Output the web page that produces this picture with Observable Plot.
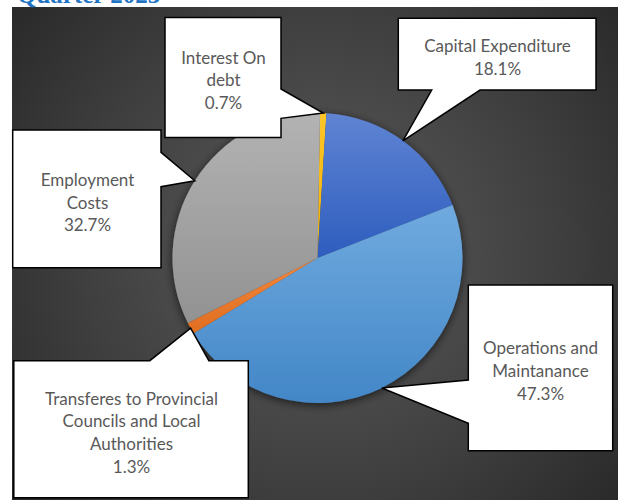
<!DOCTYPE html>
<html>
<head>
<meta charset="utf-8">
<script src="https://cdn.jsdelivr.net/npm/d3@7"></script>
<script src="https://cdn.jsdelivr.net/npm/@observablehq/plot@0.6"></script>
<style>
  html, body { margin: 0; padding: 0; background: #ffffff; }
  #chart svg { display: block; }
</style>
</head>
<body>
<div id="chart"></div>
<script>
// ---- data ----
const categories = [
  "Interest On debt",
  "Capital Expenditure",
  "Operations and Maintanance",
  "Transferes to Provincial Councils and Local Authorities",
  "Employment Costs"
];
const shares = [0.7, 18.1, 47.3, 1.3, 32.7];
const labelLines = [
  ["Interest On", "debt"],
  ["Capital Expenditure"],
  ["Operations and", "Maintanance"],
  ["Transferes to Provincial", "Councils and Local", "Authorities"],
  ["Employment", "Costs"]
];
const titleText = "Quarter 2023";

// ---- styles / layout ----
const sliceGradients = [
  ["#FFC62A", "#F2B000"],
  ["#5F84D3", "#2E5DBE"],
  ["#70AADF", "#4387C7"],
  ["#F2873A", "#E06E22"],
  ["#B3B3B3", "#929292"]
];
const W = 618, H = 500;
const pieCenter = [317.5, 258];
const pieRadius = 145;
const startDeg = 1;
const plotArea = [12, 7, 618, 500];
const callouts = [
  {box: [165, 17.5, 281, 137.5], edge: "right", base: [89, 118.3], text: [223, 78.5]},
  {box: [398.3, 18.3, 596, 90], edge: "bottom", base: [431.7, 480], text: [497, 55.5]},
  {box: [468.3, 285, 612.7, 450.7], edge: "left", base: [380, 423.3], text: [540, 369.3]},
  {box: [13.8, 360.7, 248.3, 497.7], edge: "top", base: [149.8, 208.9], text: [131, 431]},
  {box: [12.7, 130, 161, 267.7], edge: "right", base: [152.3, 186.7], text: [87, 201]}
];

const rows = categories.map((c, i) => ({
  category: c,
  value: shares[i],
  label: labelLines[i].concat([shares[i].toFixed(1) + "%"]).join("\n"),
  tx: callouts[i].text[0],
  ty: callouts[i].text[1]
}));

const rad = (d) => d * Math.PI / 180;
const pie = d3.pie().sort(null).value(d => d.value)
  .startAngle(rad(startDeg)).endAngle(rad(startDeg + 360));
const arcs = pie(rows);

const svgNS = "http://www.w3.org/2000/svg";
function el(name, attrs) {
  const e = document.createElementNS(svgNS, name);
  for (const k in attrs) e.setAttribute(k, attrs[k]);
  return e;
}

function calloutPoints(c, tip) {
  const [x0, y0, x1, y1] = c.box;
  const [a, b] = c.base;
  switch (c.edge) {
    case "right": return [[x0,y0],[x1,y0],[x1,a],tip,[x1,b],[x1,y1],[x0,y1]];
    case "left": return [[x0,y0],[x1,y0],[x1,y1],[x0,y1],[x0,b],tip,[x0,a]];
    case "bottom": return [[x0,y0],[x1,y0],[x1,y1],[b,y1],tip,[a,y1],[x0,y1]];
    case "top": return [[x0,y0],[a,y0],tip,[b,y0],[x1,y0],[x1,y1],[x0,y1]];
  }
}

function backgroundMark(index, scales) {
  const sx = scales && scales.x ? scales.x : (v => v);
  const sy = scales && scales.y ? scales.y : (v => v);
  const g = el("g", {});
  const defs = el("defs", {});
  const rg = el("radialGradient", {id: "bgGrad", gradientUnits: "userSpaceOnUse",
    cx: sx(320), cy: sy(250), r: 430});
  rg.appendChild(el("stop", {offset: "0", "stop-color": "#5c5c5c"}));
  rg.appendChild(el("stop", {offset: "0.55", "stop-color": "#3f3f3f"}));
  rg.appendChild(el("stop", {offset: "1", "stop-color": "#242424"}));
  defs.appendChild(rg);
  g.appendChild(defs);
  g.appendChild(el("rect", {
    x: sx(plotArea[0]), y: sy(plotArea[1]),
    width: sx(plotArea[2]) - sx(plotArea[0]), height: sy(plotArea[3]) - sy(plotArea[1]),
    fill: "url(#bgGrad)"
  }));
  const t = el("text", {x: sx(17), y: sy(3), fill: "#1f74c4", "text-anchor": "start",
    "font-family": "Liberation Serif, DejaVu Serif, serif", "font-weight": "bold", "font-size": 25});
  t.textContent = titleText;
  g.appendChild(t);
  return g;
}

function pieMark(index, scales) {
  const sx = scales && scales.x ? scales.x : (v => v);
  const sy = scales && scales.y ? scales.y : (v => v);
  const cx = sx(pieCenter[0]), cy = sy(pieCenter[1]);
  const r = sx(pieCenter[0] + pieRadius) - cx;
  const g = el("g", {});
  const defs = el("defs", {});
  const f = el("filter", {id: "pieShadow", x: "-20%", y: "-20%", width: "140%", height: "140%"});
  f.appendChild(el("feDropShadow", {dx: 0, dy: 2, stdDeviation: 5, "flood-color": "#000", "flood-opacity": 0.65}));
  defs.appendChild(f);
  arcs.forEach((a, i) => {
    const lg = el("linearGradient", {id: "slice" + i, x1: 0, y1: 0, x2: 0, y2: 1});
    lg.appendChild(el("stop", {offset: 0, "stop-color": sliceGradients[i][0]}));
    lg.appendChild(el("stop", {offset: 1, "stop-color": sliceGradients[i][1]}));
    defs.appendChild(lg);
  });
  g.appendChild(defs);
  const arcGen = d3.arc().innerRadius(0).outerRadius(r);
  const pg = el("g", {transform: `translate(${cx},${cy})`, filter: "url(#pieShadow)"});
  arcs.forEach((a, i) => {
    pg.appendChild(el("path", {d: arcGen(a), fill: `url(#slice${i})`}));
  });
  g.appendChild(pg);
  // callout boxes
  arcs.forEach((a, i) => {
    const mid = (a.startAngle + a.endAngle) / 2;
    const tip = [pieCenter[0] + pieRadius * Math.sin(mid), pieCenter[1] - pieRadius * Math.cos(mid)];
    const pts = calloutPoints(callouts[i], tip).map(([x, y]) => [sx(x), sy(y)]);
    g.appendChild(el("path", {
      d: "M" + pts.map(p => p.join(",")).join("L") + "Z",
      fill: "#ffffff", stroke: "#000000", "stroke-width": 1.5, "stroke-linejoin": "miter"
    }));
  });
  return g;
}

const chart = Plot.plot({
  width: W,
  height: H,
  margin: 0,
  x: {domain: [0, W], range: [0, W], axis: null},
  y: {domain: [0, H], range: [0, H], axis: null},
  style: {background: "#ffffff", overflow: "hidden"},
  marks: [
    backgroundMark,
    pieMark,
    Plot.text(rows, {
      x: "tx", y: "ty", text: "label",
      fontSize: 17, lineHeight: 1.335, lineAnchor: "middle", textAnchor: "middle",
      fill: "#595959", fontFamily: "Lato, 'Open Sans', sans-serif"
    })
  ]
});
document.getElementById("chart").appendChild(chart);
</script>
</body>
</html>
